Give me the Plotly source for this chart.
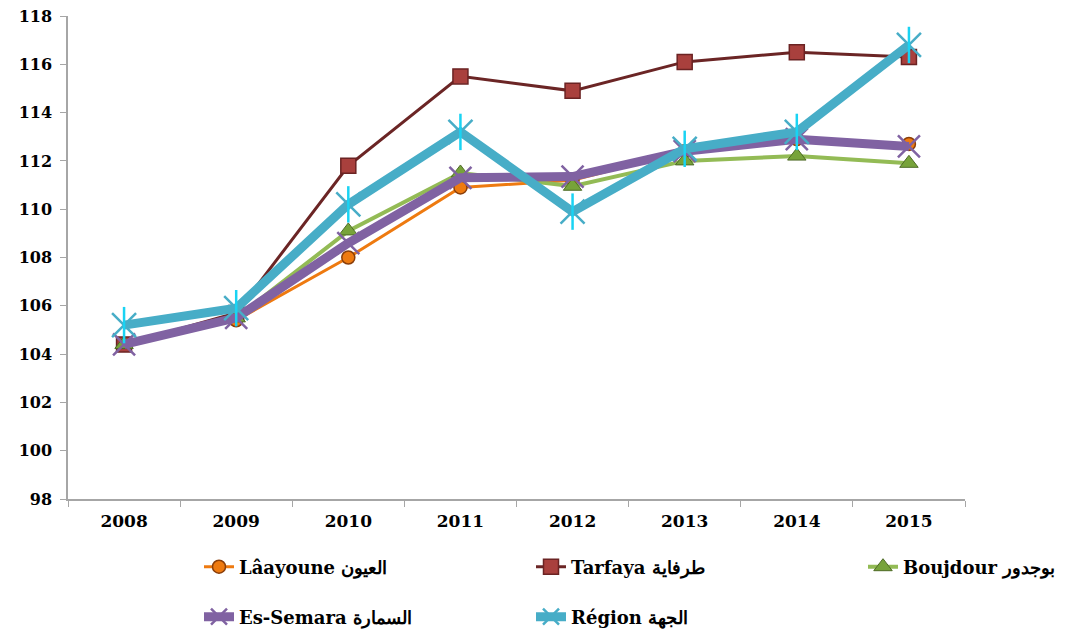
import plotly.graph_objects as go

years = ["2008", "2009", "2010", "2011", "2012", "2013", "2014", "2015"]
laayoune = [104.4, 105.4, 108.0, 110.9, 111.2, 112.4, 112.9, 112.7]
tarfaya = [104.4, 105.7, 111.8, 115.5, 114.9, 116.1, 116.5, 116.3]
boujdour = [104.4, 105.5, 109.1, 111.5, 110.95, 112.0, 112.2, 111.9]
semara = [104.4, 105.5, 108.6, 111.3, 111.35, 112.4, 112.9, 112.6]
region = [105.2, 105.9, 110.2, 113.2, 109.9, 112.5, 113.2, 116.8]

names = ["Lâayoune العيون", "Tarfaya طرفاية", "Boujdour بوجدور",
         "Es-Semara السمارة", "Région الجهة"]

FONT = "'DejaVu Serif', 'Liberation Serif', serif"

fig = go.Figure()

fig.add_trace(go.Scatter(
    x=years, y=laayoune, name=names[0], mode="lines+markers", legend="legend",
    line=dict(color="#EE7A10", width=3),
    marker=dict(symbol="circle", size=13, color="#EE7A10",
                line=dict(color="#8A3E0A", width=1.5))))
fig.add_trace(go.Scatter(
    x=years, y=tarfaya, name=names[1], mode="lines+markers", legend="legend2",
    line=dict(color="#6B2525", width=3),
    marker=dict(symbol="square", size=15, color="#A9403D",
                line=dict(color="#6B2323", width=1.5))))
fig.add_trace(go.Scatter(
    x=years, y=boujdour, name=names[2], mode="lines+markers", legend="legend3",
    line=dict(color="#93BB55", width=4),
    marker=dict(symbol="triangle-up", size=16, color="#77A33A",
                line=dict(color="#4E6B26", width=1))))
fig.add_trace(go.Scatter(
    x=years, y=semara, name=names[3], mode="lines+markers", legend="legend4",
    line=dict(color="#8062A2", width=9),
    marker=dict(symbol="x-thin-open", size=22,
                line=dict(color="#8062A2", width=2.5))))
fig.add_trace(go.Scatter(
    x=years, y=region, name=names[4], mode="lines+markers", legend="legend5",
    line=dict(color="#47ADC7", width=9),
    marker=dict(symbol="x-thin-open", size=24,
                line=dict(color="#47ADC7", width=2.5))))
fig.add_trace(go.Scatter(
    x=years, y=region, mode="markers", showlegend=False, hoverinfo="skip",
    marker=dict(symbol="line-ns-open", size=26,
                line=dict(color="#47ADC7", width=2.5))))

legend_common = dict(
    orientation="h", xref="container", yref="container",
    font=dict(family=FONT, size=18, color="#000000", weight="bold"),
    bgcolor="rgba(0,0,0,0)", yanchor="middle", xanchor="left",
    itemsizing="trace",
)
W, H = 1085, 637
OFF = 8  # page body offset
row1 = 1 - (567 - OFF) / H
row2 = 1 - (617 - OFF) / H
cols = [(199 - OFF) / W, (531 - OFF) / W, (863 - OFF) / W]

fig.update_layout(
    width=W, height=H,
    margin=dict(l=60, r=128, t=8, b=146, autoexpand=False),
    plot_bgcolor="white", paper_bgcolor="white",
    font=dict(family=FONT, size=16, color="#000000"),
    legend=dict(legend_common, x=cols[0], y=row1),
    legend2=dict(legend_common, x=cols[1], y=row1),
    legend3=dict(legend_common, x=cols[2], y=row1),
    legend4=dict(legend_common, x=cols[0], y=row2),
    legend5=dict(legend_common, x=cols[1], y=row2),
    xaxis=dict(
        type="category", tickson="boundaries", showgrid=False,
        showline=True, linecolor="#A6A6A6", linewidth=1.5,
        ticks="outside", ticklen=6, tickcolor="#A6A6A6",
        tickfont=dict(family=FONT, size=17, color="#000000", weight="bold"),
        range=[-0.5, 7.5], automargin=False, ticklabeloverflow="allow",
        ticklabelstandoff=6,
    ),
    yaxis=dict(
        range=[98, 118], dtick=2, showgrid=False, zeroline=False,
        showline=True, linecolor="#A6A6A6", linewidth=1.5,
        ticks="outside", ticklen=6, tickcolor="#A6A6A6",
        tickfont=dict(family=FONT, size=16, color="#000000", weight="bold"),
        automargin=False, ticklabeloverflow="allow",
        ticklabelstandoff=5,
    ),
)

fig.write_html("out.html")
